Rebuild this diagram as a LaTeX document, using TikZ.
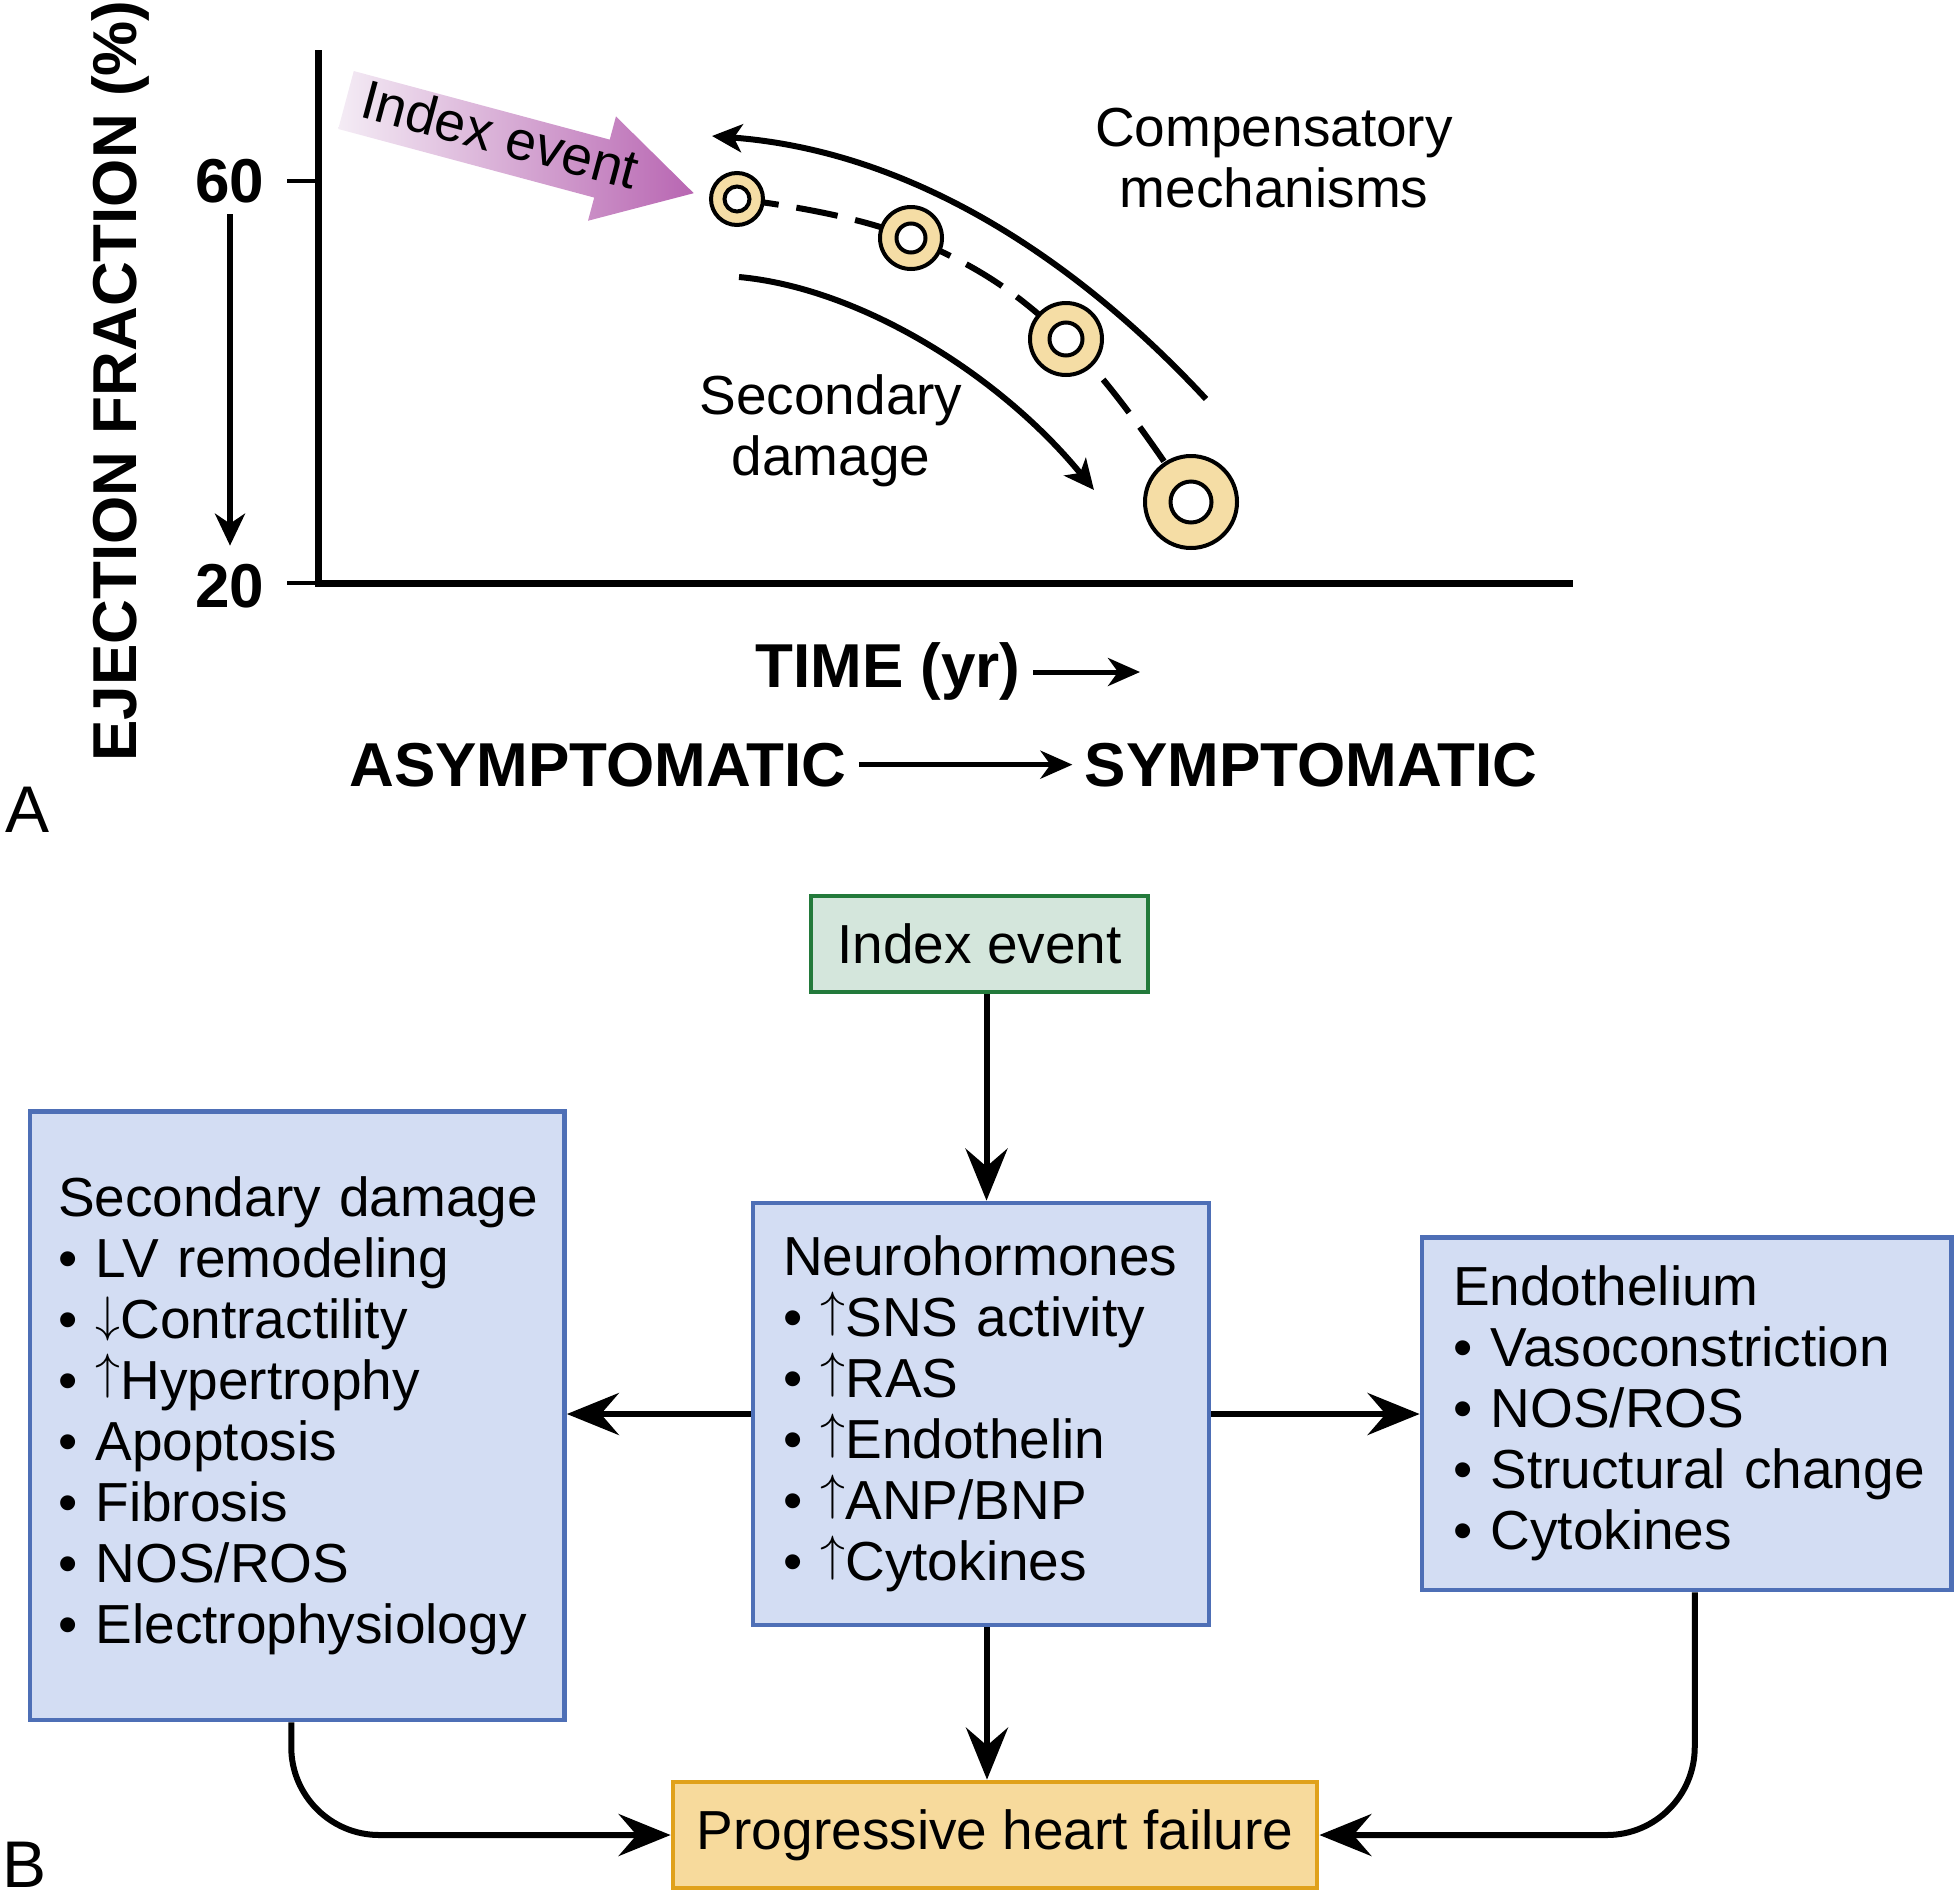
\documentclass[tikz,border=0pt]{standalone}
\usepackage{fontspec}
\setmainfont{Liberation Sans}
\usetikzlibrary{arrows.meta,calc}
\definecolor{boxblue}{HTML}{D3DDF3}
\definecolor{edgeblue}{HTML}{4E6FB6}
\definecolor{boxgreen}{HTML}{D4E6DC}
\definecolor{edgegreen}{HTML}{237A3B}
\definecolor{boxgold}{HTML}{F7DA9C}
\definecolor{edgegold}{HTML}{E0A11B}
\definecolor{ringfill}{HTML}{F5DDA5}
\definecolor{purpleL}{HTML}{F4ECF5}
\definecolor{purpleR}{HTML}{B866B2}
\newcommand\myfn{\fontsize{27.5}{30.5}\selectfont}
\newcommand\myfb{\fontsize{31}{35}\selectfont\bfseries}
\newcommand\myfbig{\fontsize{33}{35}\selectfont}
\newcommand\myup{\raisebox{0.194em}{$\uparrow$}}
\newcommand\mydown{\raisebox{0.12em}{$\downarrow$}}
\newcommand\myline[1]{\mbox{#1}}
\begin{document}
\begin{tikzpicture}[x=0.5pt,y=-0.5pt,
  txt/.style={font=\myfn, inner sep=0pt},
  btxt/.style={font=\myfb, inner sep=0pt},
  listbox/.style={rectangle, draw=edgeblue, fill=boxblue, line width=2.4pt, align=left, font=\myfn, inner ysep=0pt},
  plainbox/.style={rectangle, line width=2.4pt, font=\myfn, inner sep=0pt},
  conn/.style={line width=3pt, -{Stealth[length=26pt,width=21pt,inset=9pt]}},
  axisline/.style={line width=3.5pt},
  tickline/.style={line width=2pt},
  chartarrow/.style={line width=3pt, -{Stealth[length=15pt,width=14pt,inset=4pt]}},
  timearrow/.style={line width=2.5pt, -{Stealth[length=16pt,width=14pt,inset=5pt]}},
  ring/.style={circle, draw, line width=2pt, fill=ringfill, inner sep=0pt},
  hole/.style={circle, draw, line width=2pt, fill=white, inner sep=0pt},
  dashline/.style={line width=3pt, dash pattern=on 21pt off 9pt}
]
\useasboundingbox (0,0) rectangle (1954,1901);

% ---------------- Panel A ----------------
\draw[axisline] (318,50) -- (318,583) -- (1573,583);
\draw[tickline] (287,181) -- (318,181);
\draw[tickline] (287,583) -- (318,583);
\node[btxt] (n60) at (230,181) {60};
\node[btxt] (n20) at (230,586) {20};
\draw[line width=3pt, -{Stealth[length=16pt,width=15pt,inset=5pt]}, shorten <=5.5pt, shorten >=9pt] (n60.south) -- (n20.north);
\node[btxt, rotate=90, anchor=base] (ylab) at (136,381) {EJECTION FRACTION (\%)};
\node[font=\myfbig, inner sep=0pt, anchor=base] (labA) at (28,832) {A};

% Index event arrow
\begin{scope}[shift={(346,100)}, rotate=-15]
  \shade[left color=purpleL, right color=purpleR] (0,-30) -- (265,-30) -- (265,-54) -- (360,0) -- (265,54) -- (265,30) -- (0,30) -- cycle;
  \node[txt, rotate=-15] (ievt) at (158,-7) {Index event};
\end{scope}

% curves
\draw[chartarrow] (1206,399) .. controls (1076,259) and (912,151) .. (712,136);
\draw[chartarrow] (739,277) .. controls (860,288) and (1000,375) .. (1094,490);

% rings and dashed path
\coordinate (p1) at (737,199);
\coordinate (p2) at (911,238);
\coordinate (p3) at (1066,339);
\coordinate (p4) at (1191,502);
\draw[dashline] plot[smooth, tension=0.7] coordinates {(p1) (p2) (p3) (p4)};
\node[ring, minimum size=26pt] (r1) at (p1) {};
\node[hole, minimum size=12.5pt] (h1) at (p1) {};
\node[ring, minimum size=31pt] (r2) at (p2) {};
\node[hole, minimum size=14.5pt] (h2) at (p2) {};
\node[ring, minimum size=36pt] (r3) at (p3) {};
\node[hole, minimum size=16.5pt] (h3) at (p3) {};
\node[ring, minimum size=46pt] (r4) at (p4) {};
\node[hole, minimum size=20.5pt] (h4) at (p4) {};

\node[txt, align=center] (comp) at (1274,158) {Compensatory\\mechanisms};
\node[txt, align=center] (secd) at (831,431) {Secondary\\damage};

\node[btxt, anchor=base] (time) at (888,687) {TIME (yr)};
\coordinate (timeend) at (1140,672);
\draw[timearrow] ([xshift=6pt,yshift=7.5pt]time.base east) -- (timeend);
\node[btxt, anchor=base] (asym) at (598,786) {ASYMPTOMATIC};
\node[btxt, anchor=base] (sym) at (1311,786) {SYMPTOMATIC};
\draw[timearrow, shorten <=6pt, shorten >=6pt] (asym.east) -- (sym.west);

% ---------------- Panel B ----------------
\node[font=\myfbig, inner sep=0pt, anchor=base] (labB) at (25,1887) {B};

\node[plainbox, draw=edgegreen, fill=boxgreen, minimum width=168.5pt, minimum height=48pt] (idx) at (979.5,944) {Index event};

\node[listbox, minimum width=228pt, minimum height=211pt, text width=198pt, inner xsep=15pt] (neuro) at (981,1414)
  {\myline{Neurohormones}\\\myline{• \myup SNS activity}\\\myline{• \myup RAS}\\\myline{• \myup Endothelin}\\\myline{• \myup ANP/BNP}\\\myline{• \myup Cytokines}};

\node[listbox, minimum width=267.25pt, minimum height=304.2pt, text width=239.25pt, inner xsep=14pt] (sd) at (297.25,1415.8)
  {\myline{Secondary damage}\\\myline{• LV remodeling}\\\myline{• \mydown Contractility}\\\myline{• \myup Hypertrophy}\\\myline{• Apoptosis}\\\myline{• Fibrosis}\\\myline{• NOS/ROS}\\\myline{• Electrophysiology}};

\node[listbox, minimum width=264.75pt, minimum height=176.25pt, text width=233.75pt, inner xsep=15.5pt] (endo) at (1686.75,1413.75)
  {\myline{Endothelium}\\\myline{• Vasoconstriction}\\\myline{• NOS/ROS}\\\myline{• Structural change}\\\myline{• Cytokines}};

\node[plainbox, draw=edgegold, fill=boxgold, minimum width=322pt, minimum height=53pt] (phf) at (995,1835) {Progressive heart failure};

\draw[conn] ([xshift=3.5pt]idx.south) -- ([xshift=3.5pt]idx.south |- neuro.north);
\draw[conn] (neuro.west) -- (neuro.west -| sd.east);
\draw[conn] (neuro.east) -- (neuro.east -| endo.west);
\draw[conn] ([xshift=3pt]neuro.south) -- ([xshift=3pt]neuro.south |- phf.north);
\draw[conn, rounded corners=44pt] ([xshift=-3pt]sd.south) |- (phf.west);
\draw[conn, rounded corners=44pt] ([xshift=4pt]endo.south) |- (phf.east);
\end{tikzpicture}
\end{document}
